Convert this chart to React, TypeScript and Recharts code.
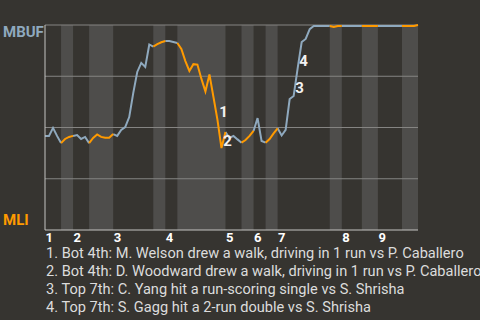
import React from 'react';
import { LineChart, Line, XAxis, YAxis, ReferenceArea, ReferenceLine, ReferenceDot } from 'recharts';

// plate appearances in each half inning, top 1st .. bottom 9th
const HALF_PAS = [4, 3, 4, 6, 10, 3, 3, 12, 4, 3, 3, 3, 13, 3, 5, 4, 6, 4];
const INNINGS = ['1', '2', '3', '4', '5', '6', '7', '8', '9'];

// MBUF win probability (%) after each plate appearance
const WP = [
  45.9, 45.9, 49.8, 45.9, 42.4, 44.4, 45.4, 45.9, 46.3, 44.4,
  45.4, 42.4, 44.9, 46.6, 45.4, 45.0, 45.0, 46.8, 45.9, 48.8,
  50.2, 55.1, 66.8, 77.1, 81.5, 79.5, 90.5, 89.5, 90.7, 91.6,
  92.2, 92.2, 91.7, 91.2, 88.3, 82.4, 77.6, 80.9, 80.7, 73.7,
  67.6, 75.9, 64.9, 53.7, 40.0, 47.8, 44.9, 45.9, 44.2, 42.6,
  43.9, 45.9, 48.3, 54.6, 43.4, 42.6, 44.4, 47.1, 49.6, 46.1,
  48.8, 63.9, 65.4, 79.0, 91.7, 93.2, 98.0, 99.5, 99.5, 99.5,
  99.5, 99.5, 99.0, 99.5, 99.5, 99.5, 99.5, 99.5, 99.5, 99.5,
  99.5, 99.5, 99.5, 99.5, 99.5, 99.5, 99.5, 99.5, 99.5, 99.5,
  99.5, 99.5, 99.5, 100,
];

const ANNOTATIONS = [
  { label: '1', at: 43 },
  { label: '2', at: 44 },
  { label: '3', at: 62 },
  { label: '4', at: 63 },
];

const NOTES = [
  '1. Bot 4th: M. Welson drew a walk, driving in 1 run vs P. Caballero',
  '2. Bot 4th: D. Woodward drew a walk, driving in 1 run vs P. Caballero',
  '3. Top 7th: C. Yang hit a run-scoring single vs S. Shrisha',
  '4. Top 7th: S. Gagg hit a 2-run double vs S. Shrisha',
];

const BG = '#363430';
const STRIPE = '#4e4d4b';
const GRID = '#858482';
const AXIS = '#c4c4c2';
const BLUE = '#8fa9be';
const ORANGE = '#ff9a00';

const bounds = HALF_PAS.reduce((acc, n) => [...acc, acc[acc.length - 1] + n], [0]);
const total = bounds[bounds.length - 1];
const inningStarts = INNINGS.map((_, k) => bounds[k * 2]);
const halves = HALF_PAS.map((_, h) => ({ from: bounds[h], to: bounds[h + 1], top: h % 2 === 0 }));

const rows = WP.map((v, i) => {
  const inTop = halves.some((h) => h.top && i >= h.from && i <= h.to);
  const inBot = halves.some((h) => !h.top && i >= h.from && i <= h.to);
  return { i, top: inTop ? v : null, bot: inBot ? v : null };
});

function InningTick(props: any) {
  const { x, y, index } = props;
  return (
    <text x={x + 0.5} y={y + 12} fill="#ffffff" fontSize={13} fontWeight="bold" textAnchor="start">
      {INNINGS[index]}
    </text>
  );
}

function TeamTick(props: any) {
  const { x, y, payload } = props;
  if (payload.value === 100) {
    return (
      <text x={x - 42} y={y + 11.5} fill={BLUE} fontSize={15} fontWeight="bold">MBUF</text>
    );
  }
  if (payload.value === 0) {
    return (
      <text x={x - 42} y={y - 5} fill={ORANGE} fontSize={15} fontWeight="bold">MLI</text>
    );
  }
  return <g />;
}

export default function App() {
  return (
    <div
      style={{
        position: 'fixed', left: 0, top: 0, width: 480, height: 320,
        background: BG, fontFamily: 'Roboto', overflow: 'hidden',
      }}
    >
      <LineChart width={480} height={250} data={rows} margin={{ top: 25, right: 62, bottom: 0, left: 0 }}>
        <XAxis
          dataKey="i" type="number" domain={[0, total]} ticks={inningStarts} interval={0}
          height={20} tickSize={0} tickMargin={0} tickLine={false}
          axisLine={{ stroke: AXIS }} tick={<InningTick />}
        />
        <YAxis
          type="number" domain={[0, 100]} ticks={[0, 25, 50, 75, 100]} interval={0}
          width={45} tickSize={0} tickMargin={0} tickLine={false}
          axisLine={{ stroke: AXIS }} tick={<TeamTick />}
        />
        {halves.filter((h) => !h.top).map((h) => (
          <ReferenceArea key={h.from} x1={h.from} x2={h.to} fill={STRIPE} fillOpacity={1} stroke="none" />
        ))}
        {[25, 50, 75, 100].map((v) => (
          <ReferenceLine key={v} y={v} stroke={GRID} strokeWidth={1} />
        ))}
        <Line dataKey="top" type="linear" stroke={BLUE} strokeWidth={2} dot={false} isAnimationActive={false} />
        <Line dataKey="bot" type="linear" stroke={ORANGE} strokeWidth={2} dot={false} isAnimationActive={false} />
        {ANNOTATIONS.map((a) => (
          <ReferenceDot
            key={a.label} x={a.at} y={WP[a.at]} r={0}
            shape={(p: any) => (
              <text x={p.cx + 6} y={p.cy - 2.5} fill="#f2f2f2" fontSize={15} fontWeight="bold" textAnchor="middle">
                {a.label}
              </text>
            )}
          />
        ))}
      </LineChart>
      <div
        style={{
          position: 'absolute', left: 46, top: 244, color: '#dcdcdc',
          fontSize: 14.6, lineHeight: '18px', whiteSpace: 'nowrap',
        }}
      >
        {NOTES.map((n) => (
          <div key={n}>{n}</div>
        ))}
      </div>
    </div>
  );
}
